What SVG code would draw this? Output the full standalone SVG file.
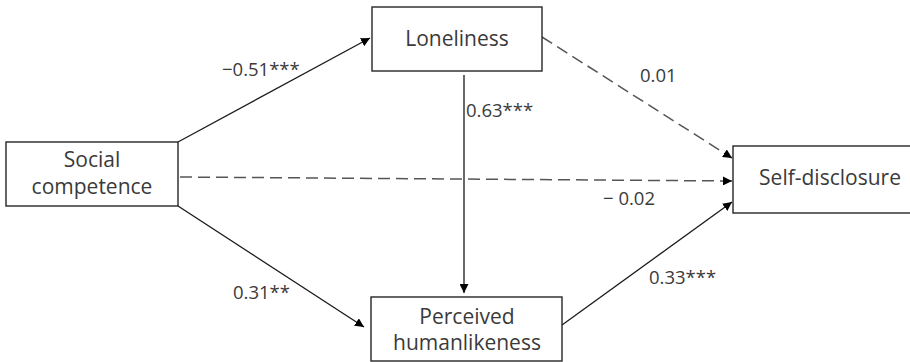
<svg xmlns="http://www.w3.org/2000/svg" width="910" height="362" viewBox="0 0 910 362">
<defs>
<style>
.box{fill:#fff;stroke:#262626;stroke-width:1.4}
.t{font-family:"Open Sans","Liberation Sans",sans-serif;font-size:21px;fill:#3a3a3a;text-anchor:middle}
.lb{font-family:"Open Sans","Liberation Sans",sans-serif;font-size:18.5px;fill:#3a3a3a}
.solid{stroke:#1a1a1a;stroke-width:1.3;fill:none}
.dash{stroke:#555;stroke-width:1.5;fill:none;stroke-dasharray:12 6}
</style>
<marker id="ah" viewBox="0 0 10 10" refX="10" refY="5" markerWidth="9" markerHeight="9" markerUnits="userSpaceOnUse" orient="auto">
<path d="M0,0 L10,5 L0,10 Z" fill="#000"/>
</marker>
</defs>
<rect width="910" height="362" fill="#fff"/>
<g id="connectors">
<line class="solid" x1="178" y1="142" x2="370" y2="38" marker-end="url(#ah)"/>
<line class="solid" x1="178" y1="206" x2="364" y2="327" marker-end="url(#ah)"/>
<line class="solid" x1="464" y1="75" x2="464" y2="293" marker-end="url(#ah)"/>
<line class="dash" x1="180" y1="177" x2="732" y2="181" marker-end="url(#ah)"/>
<line class="dash" x1="542" y1="37" x2="732" y2="158" marker-end="url(#ah)"/>
<line class="solid" x1="562" y1="325" x2="732" y2="202" marker-end="url(#ah)"/>
</g>
<g id="labels">
<text class="lb" x="222" y="76">−0.51***</text>
<text class="lb" x="466" y="117">0.63***</text>
<text class="lb" x="640" y="82">0.01</text>
<text class="lb" x="603" y="205">− 0.02</text>
<text class="lb" x="233" y="299">0.31**</text>
<text class="lb" x="649" y="284">0.33***</text>
</g>
<g id="social">
<rect class="box" x="6" y="142" width="172" height="64"/>
<text class="t" x="92" y="167">Social</text>
<text class="t" x="92" y="194">competence</text>
</g>
<g id="loneliness">
<rect class="box" x="372" y="7" width="170" height="64"/>
<text class="t" x="457" y="46">Loneliness</text>
</g>
<g id="selfdisclosure">
<rect class="box" x="733" y="146" width="190" height="67"/>
<text class="t" x="830" y="185">Self-disclosure</text>
</g>
<g id="humanlikeness">
<rect class="box" x="371" y="297" width="191" height="64"/>
<text class="t" x="467" y="324">Perceived</text>
<text class="t" x="467" y="350">humanlikeness</text>
</g>
</svg>
